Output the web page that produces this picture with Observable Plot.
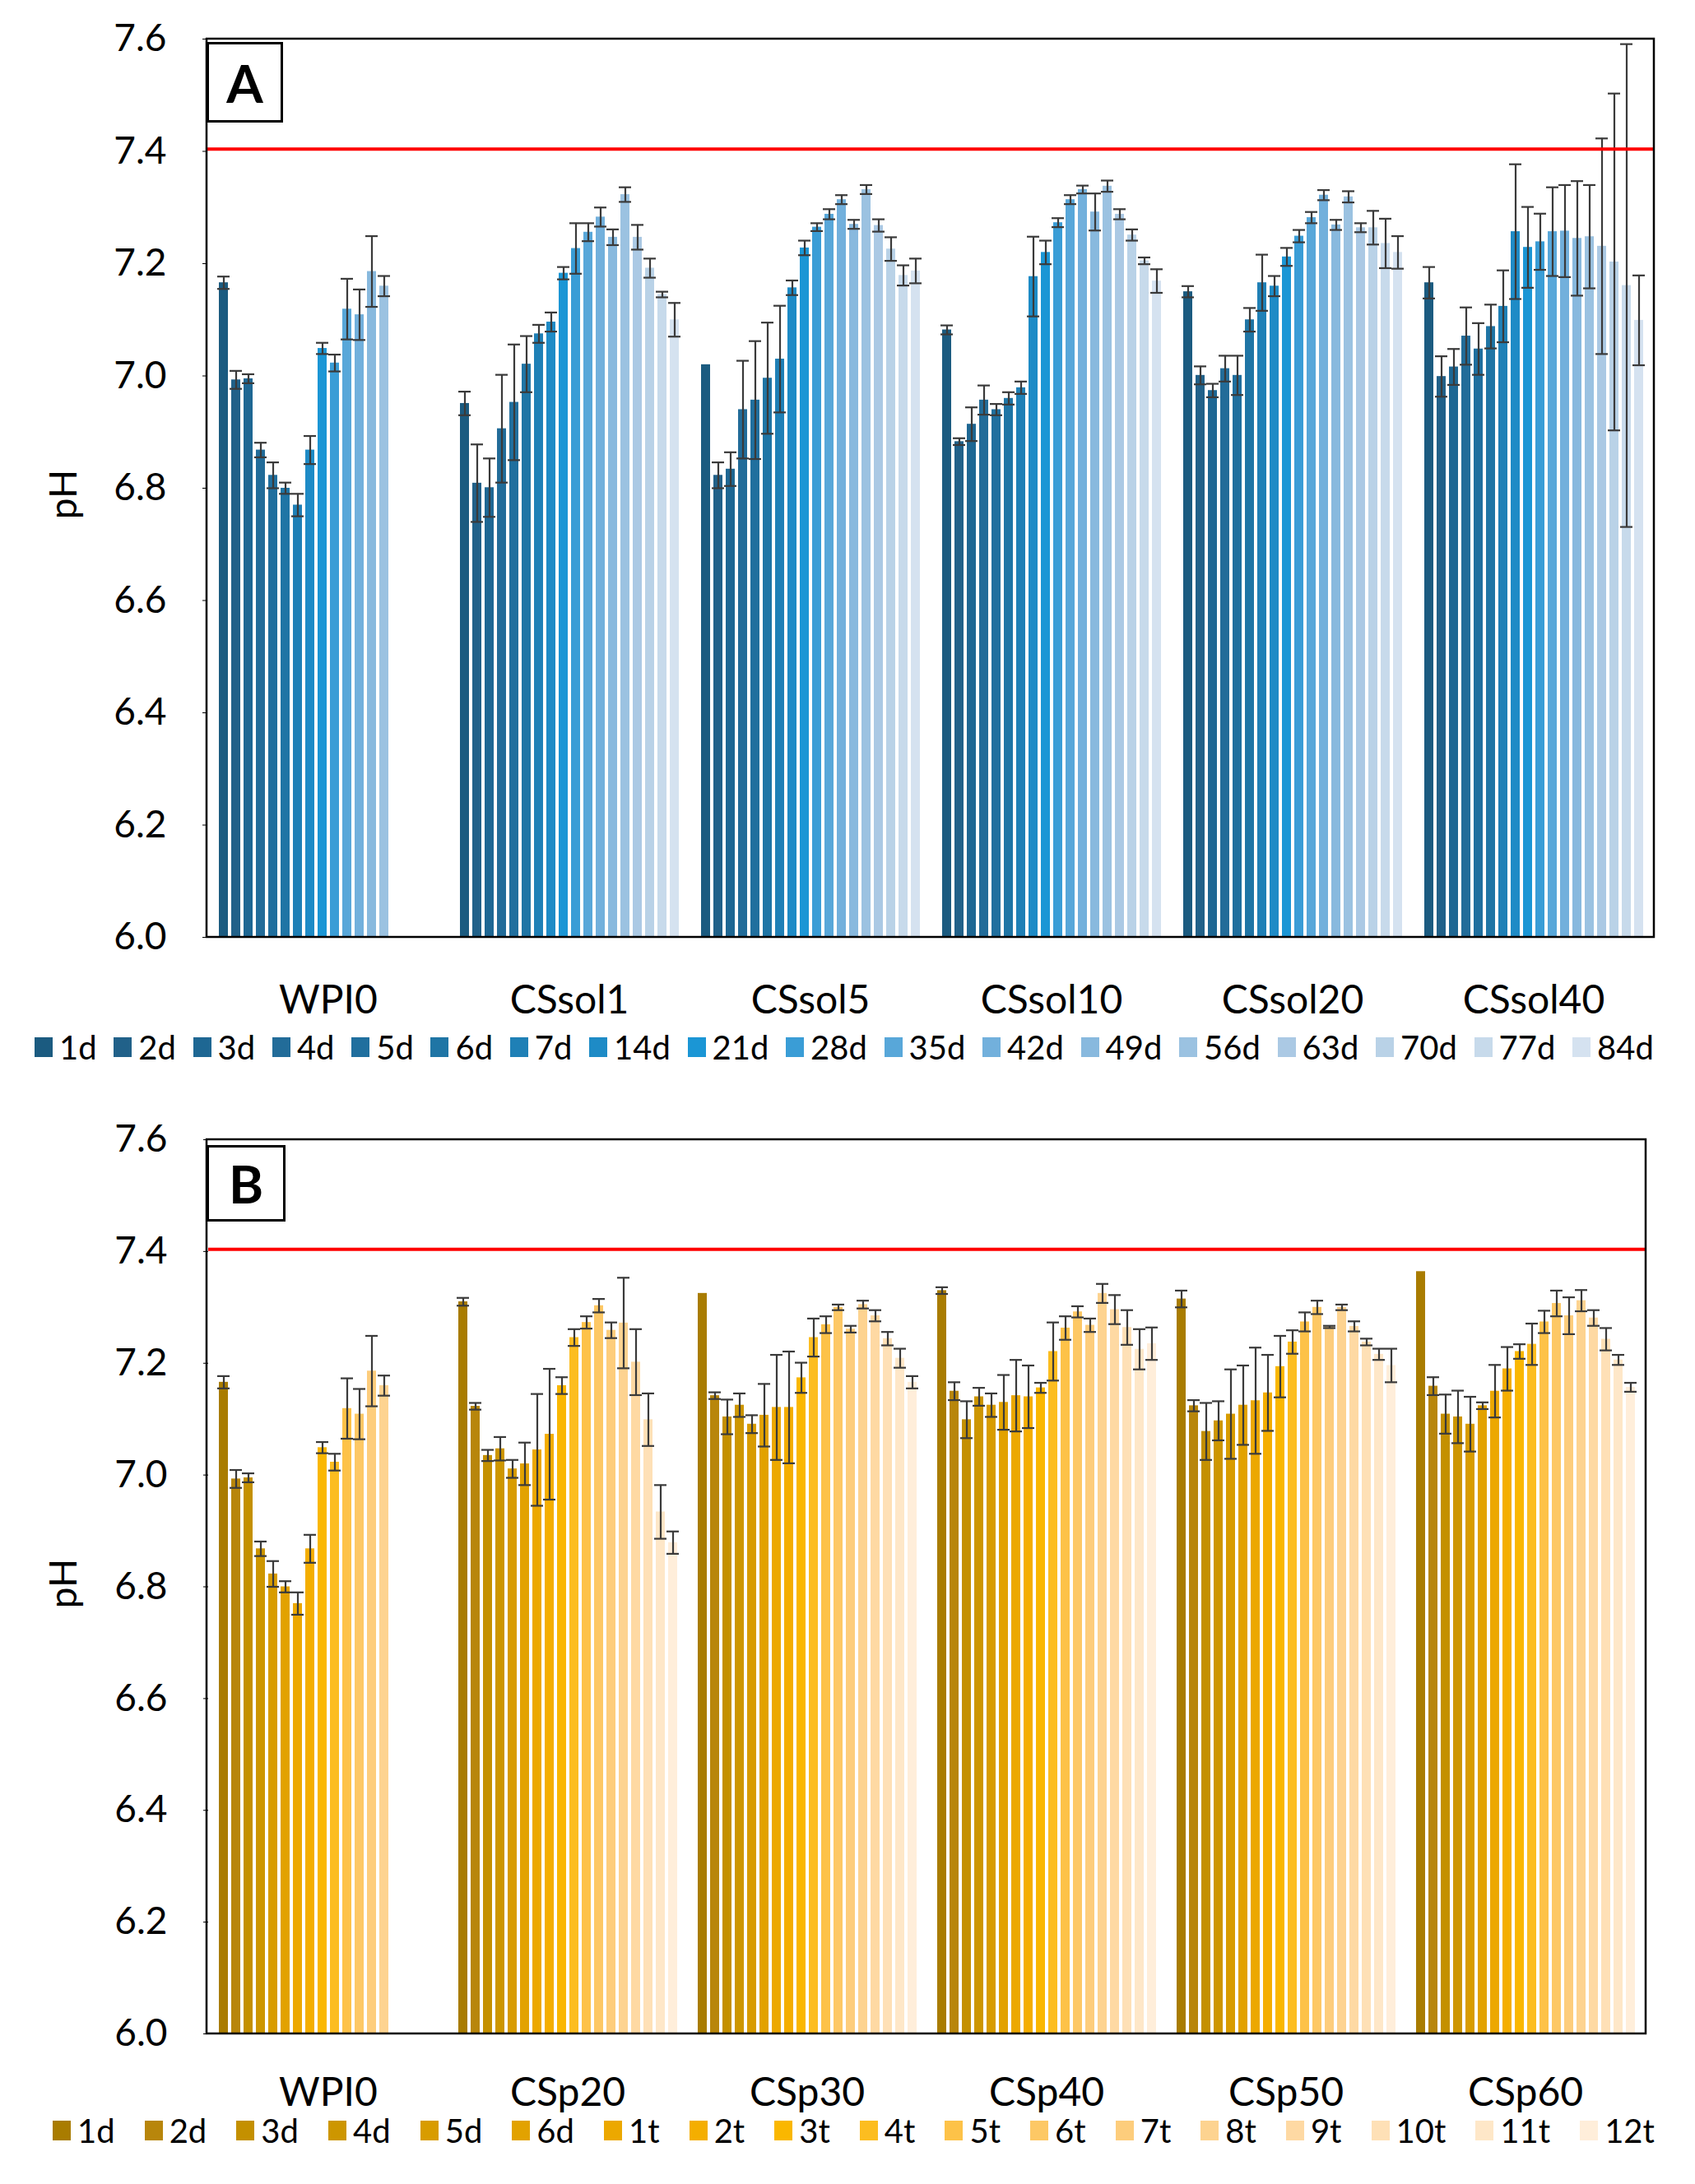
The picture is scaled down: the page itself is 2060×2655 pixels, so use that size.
<!DOCTYPE html>
<html><head><meta charset="utf-8">
<script src="https://cdn.jsdelivr.net/npm/d3@7"></script>
<script src="https://cdn.jsdelivr.net/npm/@observablehq/plot@0.6"></script>
<style>
html,body{margin:0;padding:0;background:#fff;}
#root{position:relative;width:2060px;height:2655px;font-family:Lato,"Open Sans",sans-serif;color:#000;overflow:hidden;}
.panel{position:absolute;left:0;}
.legend{position:absolute;display:flex;justify-content:space-between;align-items:center;font-size:40px;line-height:1;}
.item{display:flex;align-items:center;}
.sw{width:22px;height:24px;margin-right:8px;}
.tag{position:absolute;border:3px solid #000;background:#fff;font-weight:bold;font-size:64px;display:flex;align-items:center;justify-content:center;box-sizing:border-box;}
.ylab{position:absolute;width:120px;height:60px;line-height:60px;text-align:center;font-size:46px;transform:rotate(-90deg);}
</style></head><body><div id="root"></div>
<script>
// ---------- data ----------
const yTicks = [6.0, 6.2, 6.4, 6.6, 6.8, 7.0, 7.2, 7.4, 7.6];
const limitPH = 7.404;

const groupsA = ["WPI0", "CSsol1", "CSsol5", "CSsol10", "CSsol20", "CSsol40"];
const seriesA = ["1d","2d","3d","4d","5d","6d","7d","14d","21d","28d","35d","42d","49d","56d","63d","70d","77d","84d"];
const colorsA = ["#1b5b80","#216189","#1e6793","#226c99","#206f9e","#1f75a5","#1f80b6","#1e8bc6","#1b96d5","#3a9dd6","#58a7d9","#72b0dc","#88b9de","#9bc2e1","#abc9e4","#b9d2e7","#c7daeb","#d5e2f0"];

const wpi0 =      [7.166, 6.993, 6.995, 6.868, 6.823, 6.800, 6.770, 6.868, 7.049, 7.023, 7.119, 7.109, 7.186, 7.160];
const wpi0Err =   [0.011, 0.016, 0.008, 0.013, 0.023, 0.010, 0.020, 0.025, 0.010, 0.015, 0.054, 0.045, 0.063, 0.018];
const cssol1 =    [6.951, 6.809, 6.801, 6.906, 6.953, 7.021, 7.075, 7.096, 7.183, 7.227, 7.256, 7.283, 7.247, 7.323, 7.247, 7.192, 7.145, 7.100];
const cssol1Err = [0.021, 0.069, 0.052, 0.096, 0.103, 0.050, 0.016, 0.017, 0.011, 0.045, 0.016, 0.017, 0.014, 0.013, 0.022, 0.017, 0.005, 0.030];
const cssol5 =    [7.020, 6.823, 6.834, 6.940, 6.957, 6.996, 7.030, 7.157, 7.228, 7.265, 7.288, 7.314, 7.270, 7.332, 7.268, 7.226, 7.179, 7.187];
const cssol5Err = [0.000, 0.023, 0.030, 0.087, 0.105, 0.099, 0.095, 0.013, 0.013, 0.007, 0.009, 0.008, 0.008, 0.008, 0.011, 0.021, 0.018, 0.022];
const cssol10 =   [7.082, 6.883, 6.914, 6.957, 6.940, 6.960, 6.979, 7.177, 7.220, 7.273, 7.314, 7.332, 7.292, 7.338, 7.288, 7.251, 7.205, 7.169];
const cssol10Err =[0.008, 0.006, 0.030, 0.026, 0.010, 0.011, 0.011, 0.071, 0.021, 0.008, 0.008, 0.007, 0.033, 0.010, 0.009, 0.010, 0.006, 0.021];
const cssol20 =   [7.150, 7.001, 6.974, 7.013, 7.001, 7.100, 7.166, 7.160, 7.212, 7.249, 7.282, 7.322, 7.269, 7.319, 7.264, 7.264, 7.236, 7.220];
const cssol20Err =[0.010, 0.016, 0.012, 0.023, 0.035, 0.021, 0.050, 0.018, 0.016, 0.011, 0.010, 0.009, 0.009, 0.010, 0.008, 0.030, 0.044, 0.029];
const cssol40 =   [7.166, 6.999, 7.016, 7.071, 7.048, 7.088, 7.124, 7.257, 7.229, 7.239, 7.257, 7.258, 7.245, 7.248, 7.231, 7.203, 7.161, 7.099];
const cssol40Err =[0.028, 0.036, 0.032, 0.051, 0.046, 0.039, 0.064, 0.120, 0.072, 0.050, 0.079, 0.082, 0.102, 0.092, 0.192, 0.300, 0.430, 0.080];

const groupsB = ["WPI0", "CSp20", "CSp30", "CSp40", "CSp50", "CSp60"];
const seriesB = ["1d","2d","3d","4d","5d","6d","1t","2t","3t","4t","5t","6t","7t","8t","9t","10t","11t","12t"];
const colorsB = ["#a97c00","#b8860b","#c49000","#cd9600","#d89c00","#e2a200","#eca800","#f4ae00","#fab700","#fcbd20","#fdc248","#fdc865","#fdcd7c","#fdd390","#fed9a3","#fee0b6","#fee7c8","#ffeeda"];

const csp20 =     [7.310, 7.123, 7.035, 7.047, 7.011, 7.020, 7.045, 7.073, 7.160, 7.246, 7.273, 7.303, 7.259, 7.272, 7.202, 7.099, 6.934, 6.879];
const csp20Err =  [0.007, 0.006, 0.010, 0.021, 0.016, 0.038, 0.100, 0.117, 0.015, 0.015, 0.011, 0.012, 0.014, 0.081, 0.059, 0.047, 0.048, 0.020];
const csp30 =     [7.325, 7.142, 7.104, 7.125, 7.091, 7.107, 7.121, 7.121, 7.174, 7.246, 7.269, 7.300, 7.261, 7.305, 7.285, 7.244, 7.209, 7.166];
const csp30Err =  [0.000, 0.006, 0.031, 0.021, 0.016, 0.056, 0.094, 0.100, 0.027, 0.034, 0.015, 0.005, 0.006, 0.007, 0.010, 0.012, 0.017, 0.011];
const csp40 =     [7.330, 7.150, 7.099, 7.140, 7.125, 7.130, 7.142, 7.140, 7.156, 7.221, 7.263, 7.292, 7.268, 7.325, 7.296, 7.264, 7.225, 7.235];
const csp40Err =  [0.006, 0.016, 0.033, 0.016, 0.021, 0.049, 0.064, 0.056, 0.009, 0.052, 0.021, 0.010, 0.012, 0.017, 0.026, 0.031, 0.036, 0.029];
const csp50 =     [7.315, 7.124, 7.078, 7.097, 7.109, 7.125, 7.133, 7.147, 7.194, 7.238, 7.274, 7.300, 7.265, 7.300, 7.266, 7.238, 7.216, 7.196];
const csp50Err =  [0.015, 0.010, 0.051, 0.035, 0.080, 0.071, 0.095, 0.068, 0.055, 0.021, 0.017, 0.012, 0.002, 0.005, 0.009, 0.006, 0.010, 0.030];
const csp60 =     [7.364, 7.159, 7.109, 7.104, 7.091, 7.124, 7.150, 7.190, 7.221, 7.234, 7.274, 7.307, 7.285, 7.312, 7.281, 7.243, 7.206, 7.157];
const csp60Err =  [0.000, 0.016, 0.035, 0.047, 0.049, 0.006, 0.047, 0.039, 0.013, 0.037, 0.020, 0.023, 0.033, 0.019, 0.014, 0.020, 0.009, 0.008];

// ---------- drawing ----------
const W = 2060, ML = 251;
const root = document.getElementById("root");

function panel({groups, series, values, errors, colors, top, height, mt, mb, mr, fxPad, tag, tagBox, legendBox, ylabY}) {
  const rows = [];
  groups.forEach((g, gi) => values[gi].forEach((v, si) => rows.push({group: g, series: series[si], v, e: errors[gi][si]})));
  const errStyle = {stroke: "#3a3a3a", strokeWidth: 2.2};
  const plot = Plot.plot({
    width: W, height, marginLeft: ML, marginRight: mr, marginTop: mt, marginBottom: mb,
    style: {background: "white", color: "#000", fontFamily: "Lato, 'Open Sans', sans-serif", overflow: "visible"},
    facet: {data: rows, x: "group"},
    fx: {domain: groups, padding: 0},
    x: {domain: series, paddingInner: 0.3, paddingOuter: 0.58, axis: null},
    y: {domain: [6.0, 7.6]},
    color: {domain: series, range: colors},
    marks: [
      Plot.barY(rows, {x: "series", y1: 6.0, y2: "v", fill: "series"}),
      Plot.ruleX(rows, {filter: d => d.e > 0, x: "series", y1: d => d.v - d.e, y2: d => d.v + d.e, ...errStyle}),
      Plot.tickY(rows, {filter: d => d.e > 0, x: "series", y: d => d.v + d.e, insetLeft: -2, insetRight: -2, ...errStyle}),
      Plot.tickY(rows, {filter: d => d.e > 0, x: "series", y: d => d.v - d.e, insetLeft: -2, insetRight: -2, ...errStyle}),
      Plot.ruleY([limitPH], {stroke: "#ff0000", strokeWidth: 4}),
      Plot.axisY({ticks: yTicks, tickFormat: d => d.toFixed(1), tickSize: 6, tickPadding: 44, fontSize: 46, label: null}),
      Plot.axisFx({anchor: "bottom", tickSize: 0, tickPadding: fxPad, fontSize: 48, label: null})
    ]
  });
  // plot-area border
  const ns = "http://www.w3.org/2000/svg";
  const r = document.createElementNS(ns, "rect");
  r.setAttribute("x", ML); r.setAttribute("y", mt);
  r.setAttribute("width", W - ML - mr); r.setAttribute("height", height - mt - mb);
  r.setAttribute("fill", "none"); r.setAttribute("stroke", "#000"); r.setAttribute("stroke-width", 2.5);
  plot.appendChild(r);
  plot.classList.add("panel");
  plot.style.top = top + "px";
  root.appendChild(plot);

  const t = document.createElement("div");
  t.className = "tag"; t.textContent = tag;
  Object.assign(t.style, {left: tagBox[0] + "px", top: tagBox[1] + "px", width: tagBox[2] + "px", height: tagBox[3] + "px"});
  root.appendChild(t);

  const yl = document.createElement("div");
  yl.className = "ylab"; yl.textContent = "pH";
  Object.assign(yl.style, {left: (76 - 60) + "px", top: (ylabY - 30) + "px"});
  root.appendChild(yl);

  const lg = document.createElement("div");
  lg.className = "legend";
  Object.assign(lg.style, {left: legendBox[0] + "px", top: (legendBox[2] - 22) + "px", width: (legendBox[1] - legendBox[0]) + "px", height: "44px"});
  series.forEach((s, i) => {
    const it = document.createElement("div"); it.className = "item";
    const sw = document.createElement("span"); sw.className = "sw"; sw.style.background = colors[i];
    const tx = document.createElement("span"); tx.textContent = s;
    it.appendChild(sw); it.appendChild(tx); lg.appendChild(it);
  });
  root.appendChild(lg);
}

panel({
  groups: groupsA, series: seriesA, colors: colorsA,
  values: [wpi0, cssol1, cssol5, cssol10, cssol20, cssol40],
  errors: [wpi0Err, cssol1Err, cssol5Err, cssol10Err, cssol20Err, cssol40Err],
  top: 0, height: 1250, mt: 47, mb: 111, mr: 50, fxPad: 58,
  tag: "A", tagBox: [251, 51, 93, 98], legendBox: [42, 2010, 1273], ylabY: 601
});
panel({
  groups: groupsB, series: seriesB, colors: colorsB,
  values: [wpi0, csp20, csp30, csp40, csp50, csp60],
  errors: [wpi0Err, csp20Err, csp30Err, csp40Err, csp50Err, csp60Err],
  top: 1300, height: 1270, mt: 85, mb: 98, mr: 60, fxPad: 53,
  tag: "B", tagBox: [251, 1392, 96, 93], legendBox: [64, 2011, 2590], ylabY: 1925
});
</script></body></html>
